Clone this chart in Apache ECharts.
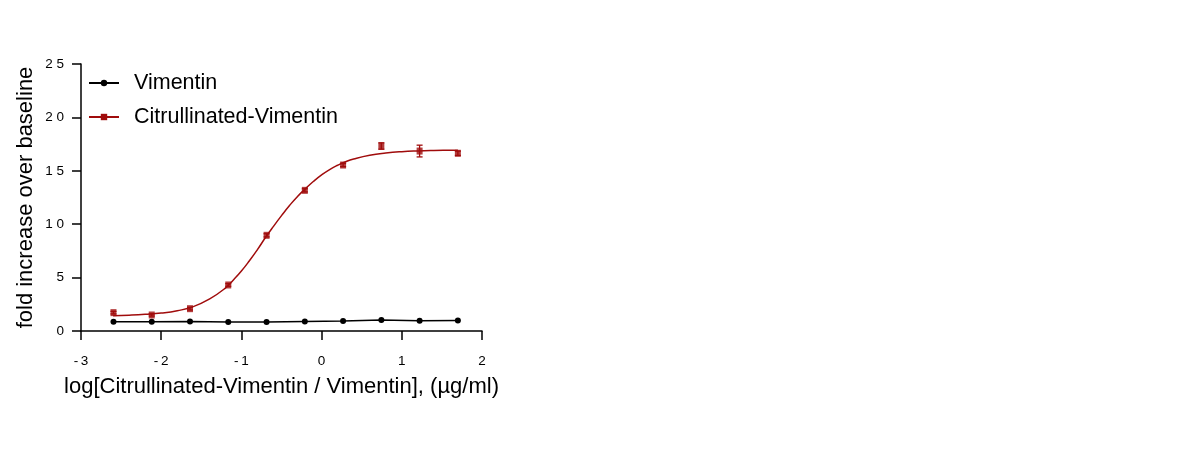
<!DOCTYPE html>
<html>
<head>
<meta charset="utf-8">
<script src="https://cdn.jsdelivr.net/npm/echarts@6/dist/echarts.min.js"></script>
<style>
html,body{margin:0;padding:0;background:#fff;}
#chart{width:1182px;height:460px;}
</style>
</head>
<body>
<div id="chart"></div>
<script>
// log concentrations (µg/ml)
const logConc = [-2.595, -2.118, -1.641, -1.164, -0.686, -0.209, 0.268, 0.745, 1.222, 1.699];
const vimentin = [0.87, 0.87, 0.89, 0.84, 0.84, 0.90, 0.93, 1.02, 0.95, 0.99];
const citVimentin = [1.72, 1.50, 2.09, 4.31, 8.96, 13.17, 15.54, 17.32, 16.85, 16.64];
const citErr = [0.12, 0.10, 0.12, 0.12, 0.15, 0.15, 0.15, 0.30, 0.55, 0.20];
// fitted curve
const curveX = [-2.6, -2.4, -2.2, -2.0, -1.8, -1.6, -1.4, -1.2, -1.1, -1.0, -0.9, -0.8, -0.7, -0.6, -0.5, -0.4, -0.3, -0.2, -0.1, 0.0, 0.1, 0.2, 0.3, 0.4, 0.6, 0.8, 1.0, 1.2, 1.4, 1.6, 1.7];
const curveY = [1.43, 1.48, 1.56, 1.68, 1.90, 2.28, 2.98, 4.02, 4.78, 5.62, 6.58, 7.62, 8.75, 9.80, 10.80, 11.75, 12.60, 13.33, 14.02, 14.62, 15.12, 15.52, 15.85, 16.10, 16.45, 16.66, 16.79, 16.86, 16.90, 16.92, 16.93];
const xTicks = [-3, -2, -1, 0, 1, 2];
const yTicks = [0, 5, 10, 15, 20, 25];

const RED = '#a00c0c';
const FONT = 'Liberation Sans, Arial, sans-serif';

const chart = echarts.init(document.getElementById('chart'));
chart.setOption({
  animation: false,
  backgroundColor: '#fff',
  grid: {left: 81, right: 700, top: 64, bottom: 129, containLabel: false},
  legend: {
    left: 83, top: 67, orient: 'vertical', itemGap: 12,
    itemWidth: 30, itemHeight: 8,
    textStyle: {fontFamily: FONT, fontSize: 21.5, color: '#000', padding: [0, 0, 0, 10]},
    data: ['Vimentin', 'Citrullinated-Vimentin']
  },
  xAxis: {
    type: 'value', min: xTicks[0], max: xTicks[xTicks.length - 1], interval: 1,
    name: 'log[Citrullinated-Vimentin / Vimentin], (µg/ml)',
    nameLocation: 'middle', nameGap: 45,
    nameTextStyle: {fontFamily: FONT, fontSize: 22, color: '#000'},
    axisLine: {onZero: false, lineStyle: {color: '#000', width: 1.5}},
    axisTick: {length: 9, lineStyle: {color: '#000', width: 1.5}},
    axisLabel: {fontFamily: FONT, fontSize: 13.5, color: '#000', margin: 23,
      formatter: v => (v < 0 ? '-\u2009' + Math.abs(v) : String(v))},
    splitLine: {show: false}
  },
  yAxis: {
    type: 'value', min: yTicks[0], max: yTicks[yTicks.length - 1], interval: 5,
    name: 'fold increase over baseline',
    nameLocation: 'middle', nameGap: 44, nameRotate: 90,
    nameTextStyle: {fontFamily: FONT, fontSize: 22, color: '#000'},
    axisLine: {show: true, onZero: false, lineStyle: {color: '#000', width: 1.5}},
    axisTick: {show: true, length: 9, lineStyle: {color: '#000', width: 1.5}},
    axisLabel: {fontFamily: FONT, fontSize: 13.5, color: '#000', margin: 17,
      formatter: v => String(v).split('').join(' ')},
    splitLine: {show: false}
  },
  series: [
    {
      name: 'Vimentin', type: 'line',
      data: logConc.map((x, i) => [x, vimentin[i]]),
      symbol: 'circle', symbolSize: 6,
      itemStyle: {color: '#000'},
      lineStyle: {color: '#000', width: 1.5},
      z: 3
    },
    {
      name: 'Citrullinated-Vimentin', type: 'line',
      data: curveX.map((x, i) => [x, curveY[i]]),
      smooth: true, showSymbol: false, symbol: 'rect', symbolSize: 6,
      itemStyle: {color: RED},
      lineStyle: {color: RED, width: 1.5},
      z: 2
    },
    {
      name: 'Citrullinated-Vimentin', type: 'scatter',
      data: logConc.map((x, i) => [x, citVimentin[i]]),
      symbol: 'rect', symbolSize: [6, 7],
      itemStyle: {color: RED},
      z: 4
    },
    {
      name: 'Citrullinated-Vimentin', type: 'custom',
      data: logConc.map((x, i) => [x, citVimentin[i] - citErr[i], citVimentin[i] + citErr[i]]),
      renderItem: function (params, api) {
        const lo = api.coord([api.value(0), api.value(1)]);
        const hi = api.coord([api.value(0), api.value(2)]);
        const w = 3;
        const st = {stroke: RED, lineWidth: 1.3};
        return {type: 'group', children: [
          {type: 'line', shape: {x1: lo[0], y1: lo[1], x2: hi[0], y2: hi[1]}, style: st},
          {type: 'line', shape: {x1: lo[0] - w, y1: lo[1], x2: lo[0] + w, y2: lo[1]}, style: st},
          {type: 'line', shape: {x1: hi[0] - w, y1: hi[1], x2: hi[0] + w, y2: hi[1]}, style: st}
        ]};
      },
      z: 3
    }
  ]
});
</script>
</body>
</html>
